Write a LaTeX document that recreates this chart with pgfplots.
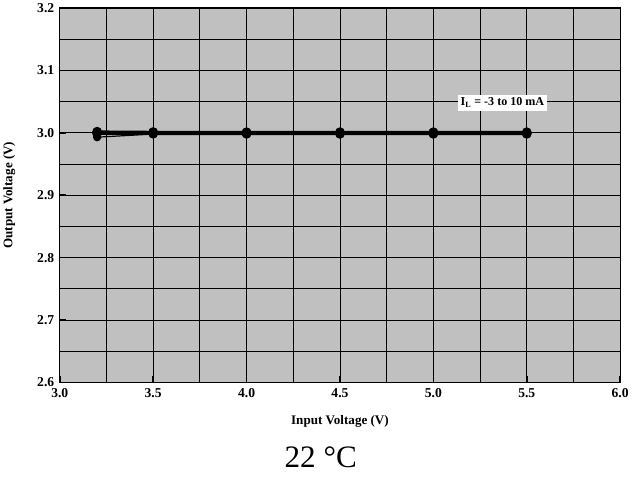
\documentclass[border=0pt]{standalone}
\usepackage{fontspec}
\setmainfont{Liberation Serif}
\usepackage{pgfplots}
\pgfplotsset{compat=1.18}
\definecolor{plotgray}{RGB}{192,192,192}
\begin{document}
\begin{tikzpicture}[x=1bp,y=1bp]
\begin{axis}[
  scale only axis,
  width=555bp, height=371bp,
  xmin=3.0, xmax=6.0, ymin=2.6, ymax=3.2,
  xtick={3.0,3.5,4.0,4.5,5.0,5.5,6.0},
  ytick={2.6,2.7,2.8,2.9,3.0,3.1,3.2},
  minor x tick num=1, minor y tick num=1,
  grid=both,
  major grid style={black, line width=0.8bp},
  minor grid style={black, line width=0.8bp},
  axis background/.style={fill=plotgray},
  axis line style={black, line width=1.2bp},
  tick style={black, line width=1.5bp},
  major tick length=6bp, minor tick length=0bp,
  xtick pos=bottom, ytick pos=left,
  tick align=inside,
  /pgf/number format/assume math mode=true,
  /pgf/number format/.cd, fixed, fixed zerofill, precision=1, /pgfplots/.cd,
  ticklabel style={font=\bfseries\fontsize{13.5}{13.5}\selectfont},
  xticklabel style={yshift=-2bp},
  yticklabel style={xshift=-2bp},
  xlabel={Input Voltage (V)},
  ylabel={Output Voltage (V)},
  label style={font=\bfseries\fontsize{13}{13}\selectfont},
  x label style={at={(axis description cs:0.5,-0.105)}, anchor=center},
  y label style={at={(axis description cs:-0.09,0.5)}, anchor=center},
  clip=false,
]
\addplot[black, line width=2.5bp, mark=*, mark size=3.5bp] coordinates {
 (3.2,3.0018) (3.5,3.0012) (4.0,3.0010) (4.5,3.0010) (5.0,3.0010) (5.5,3.0010)};
\addplot[black, line width=2.5bp, mark=*, mark size=3.5bp] coordinates {
 (3.2,3.0002) (3.5,2.9998) (4.0,2.9995) (4.5,2.9995) (5.0,2.9995) (5.5,2.9995)};
\addplot[black, line width=2.5bp, mark=*, mark size=3.5bp] coordinates {
 (3.2,2.9988) (3.5,2.9985) (4.0,2.9983) (4.5,2.9983) (5.0,2.9983) (5.5,2.9983)};
\addplot[black, line width=1.2bp, mark=*, mark size=3.5bp] coordinates {
 (3.2,2.9930) (3.5,2.9980) (4.0,2.9983) (4.5,2.9983) (5.0,2.9983) (5.5,2.9983)};
\node[fill=white, inner sep=3bp, font=\bfseries\fontsize{12}{12}\selectfont] at (axis cs:5.37,3.048) {I\textsubscript{L} = -3 to 10 mA};
\node[font=\fontsize{31}{31}\selectfont] at (axis description cs:0.5,-0.2) [xshift=-19bp] {22 °C};
\path (axis description cs:0.5,-0.255) (axis description cs:0.5,1.015);
\end{axis}
\end{tikzpicture}
\end{document}
